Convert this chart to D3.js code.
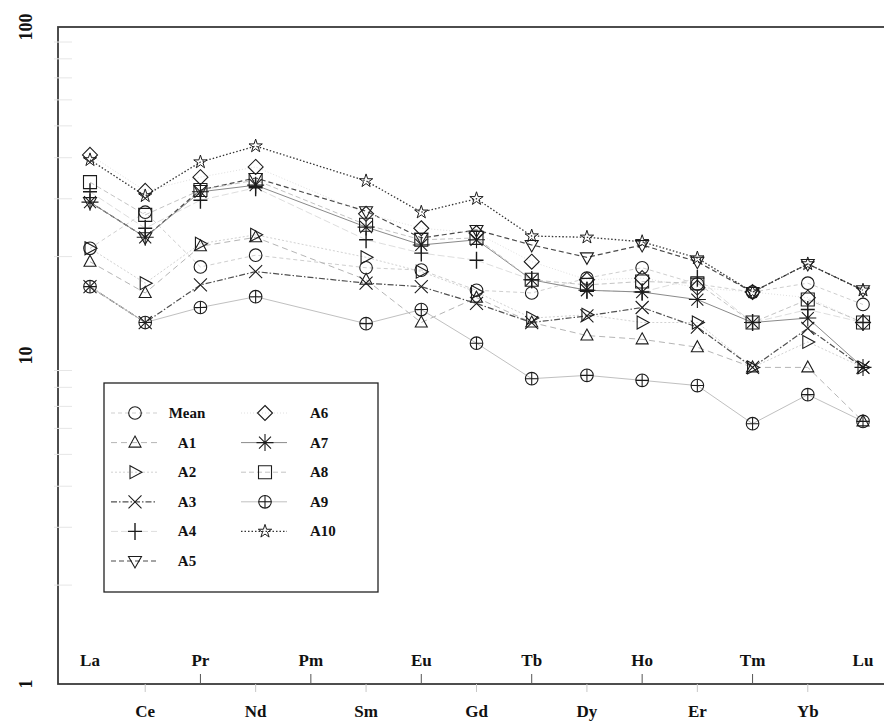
<!DOCTYPE html>
<html>
<head>
<meta charset="utf-8">
<script src="https://cdn.jsdelivr.net/npm/d3@7"></script>
<style>
  body { margin: 0; background: #fff; }
  svg { display: block; }
  text { font-family: "Liberation Serif", "Times New Roman", serif; font-weight: bold; fill: #111; }
</style>
</head>
<body>
<svg id="chart" width="884" height="722"></svg>
<script>
// Rare earth elements (Pm has no measurement; lines bridge over it)
const elements = ["La","Ce","Pr","Nd","Pm","Sm","Eu","Gd","Tb","Dy","Ho","Er","Tm","Yb","Lu"];
const yTickValues = [1, 10, 100];
const seriesNames = ["Mean","A1","A2","A3","A4","A5","A6","A7","A8","A9","A10"];

// Chondrite-normalised concentrations, one array per sample
const mean = [21.2, 27.3, 18.6, 20.2, null, 18.5, 18.2, 15.8, 15.5, 17.2, 18.5, 16.5, 15.6, 16.6, 14.3];
const a1   = [19.3, 15.5, 21.5, 22.9, null, 17.0, 12.6, 15.0, 12.6, 11.5, 11.2, 10.6,  9.2,  9.2,  6.3];
const a2   = [21.2, 16.6, 21.9, 23.3, null, 19.9, 18.0, 15.6, 13.0, 13.3, 12.6, 12.6,  9.2, 11.0,  9.2];
const a3   = [16.2, 12.6, 16.4, 18.0, null, 16.6, 16.2, 14.4, 12.6, 13.2, 14.0, 12.2,  9.2, 12.1,  9.2];
const a4   = [31.5, 24.4, 29.7, 32.4, null, 22.5, 20.5, 19.5, 17.0, 15.8, 15.6, 17.2, 12.6, 13.8, 12.6];
const a5   = [29.3, 22.9, 31.9, 34.7, null, 27.5, 22.8, 24.1, 21.7, 19.9, 21.7, 19.3, 15.6, 19.0, 15.8];
const a6   = [40.8, 31.7, 34.9, 37.5, null, 27.0, 24.4, 23.6, 19.3, 17.0, 17.2, 16.1, 15.6, 15.0, 12.6];
const a7   = [29.3, 22.9, 31.5, 33.0, null, 24.6, 21.7, 22.5, 17.0, 15.8, 15.6, 14.8, 12.6, 13.0,  9.2];
const a8   = [33.7, 26.8, 31.9, 34.2, null, 25.0, 22.5, 22.8, 17.0, 16.4, 16.8, 16.6, 12.6, 14.8, 12.6];
const a9   = [16.2, 12.6, 14.0, 15.1, null, 12.5, 13.8, 10.9,  8.5,  8.7,  8.4,  8.1,  6.2,  7.6,  6.3];
const a10  = [39.4, 30.6, 38.8, 43.4, null, 34.0, 27.3, 30.0, 23.1, 22.9, 22.2, 19.8, 15.6, 19.0, 15.8];

const seriesValues = [mean, a1, a2, a3, a4, a5, a6, a7, a8, a9, a10];

// Drawing styles per series: marker shape, line colour and dash pattern
const styles = [
  { shape: "circle",    stroke: "#cfcfcf", dash: "4,3",        width: 1 },
  { shape: "triUp",     stroke: "#b5b5b5", dash: "6,4",        width: 1 },
  { shape: "triRight",  stroke: "#d2d2d2", dash: "2,2",        width: 1 },
  { shape: "cross",     stroke: "#505050", dash: "6,2,1.5,2",  width: 1.2 },
  { shape: "plus",      stroke: "#dedede", dash: "7,3",        width: 1 },
  { shape: "triDown",   stroke: "#4a4a4a", dash: "5,3",        width: 1.2 },
  { shape: "diamond",   stroke: "#e0e0e0", dash: "1,2",        width: 1 },
  { shape: "asterisk",  stroke: "#8a8a8a", dash: null,         width: 1 },
  { shape: "square",    stroke: "#c4c4c4", dash: "5,3",        width: 1 },
  { shape: "circlePlus",stroke: "#c0c0c0", dash: null,         width: 1 },
  { shape: "star",      stroke: "#333333", dash: "1.5,2",      width: 1.3 }
];

const svg = d3.select("#chart");
const frameLeft = 58, frameTop = 27, frameBottom = 684, frameRight = 890;

const x = d3.scalePoint().domain(elements).range([90, 863]);
const y = d3.scaleLog().domain([1, 100]).range([frameBottom, frameTop]);

// Marker glyphs
function marker(g, shape) {
  const m = g.append("g").attr("fill", "none").attr("stroke", "#1c1c1c").attr("stroke-width", 1.1);
  switch (shape) {
    case "circle": m.append("circle").attr("r", 6.3); break;
    case "triUp": m.append("path").attr("d", "M0,-6.5L6,4.5L-6,4.5Z"); break;
    case "triRight": m.append("path").attr("d", "M-5,-6.5L7,0L-5,6.5Z"); break;
    case "triDown": m.append("path").attr("d", "M-6.5,-4.5L6.5,-4.5L0,7Z"); break;
    case "cross": m.append("path").attr("d", "M-6.5,-6.5L6.5,6.5M-6.5,6.5L6.5,-6.5"); break;
    case "plus": m.append("path").attr("d", "M0,-8.5V8.5M-7,0H7").attr("stroke-width", 1.4); break;
    case "diamond": m.append("path").attr("d", "M0,-7.5L7.5,0L0,7.5L-7.5,0Z"); break;
    case "asterisk": m.append("path").attr("d", "M-6,-6L6,6M-6,6L6,-6M0,-8.5V8.5M-8.5,0H8.5"); break;
    case "square": m.append("path").attr("d", "M-6.5,-6.5H6.5V6.5H-6.5Z"); break;
    case "circlePlus":
      m.append("circle").attr("r", 6.3);
      m.append("path").attr("d", "M0,-6.3V6.3M-6.3,0H6.3");
      break;
    case "star":
      m.append("path").attr("d", d3.symbol(d3.symbolStar, 55)()).attr("stroke-width", 1);
      break;
  }
  return m;
}

// Frame (left, top, bottom)
svg.append("rect")
  .attr("x", frameLeft).attr("y", frameTop)
  .attr("width", frameRight - frameLeft).attr("height", frameBottom - frameTop)
  .attr("fill", "none").attr("stroke", "#3a3a3a").attr("stroke-width", 1.8);

// Faint minor ticks of the log axis
const minor = [];
for (const dec of [1, 10]) for (let k = 2; k <= 9; k++) minor.push(dec * k);
svg.append("g").selectAll("line").data(minor).join("line")
  .attr("x1", frameLeft - 4).attr("x2", frameLeft + 14)
  .attr("y1", d => y(d)).attr("y2", d => y(d))
  .attr("stroke", "#e6e6e6").attr("stroke-width", 1);

// Y tick labels (rotated)
svg.append("g").selectAll("text").data(yTickValues).join("text")
  .attr("transform", d => `translate(26,${y(d)}) rotate(-90)`)
  .attr("text-anchor", "middle").attr("dominant-baseline", "central")
  .attr("font-size", 18)
  .text(d => d);

// X axis: alternating labels inside and below the frame
const xg = svg.append("g");
elements.forEach((el, i) => {
  const inside = i % 2 === 0;
  if (inside) {
    if (i > 0 && i < elements.length - 1) {
      xg.append("line").attr("x1", x(el)).attr("x2", x(el))
        .attr("y1", frameBottom).attr("y2", frameBottom - 10)
        .attr("stroke", "#555").attr("stroke-width", 1);
    }
    xg.append("text").attr("x", x(el)).attr("y", 660)
      .attr("text-anchor", "middle").attr("dominant-baseline", "central")
      .attr("font-size", 17).text(el);
  } else {
    xg.append("line").attr("x1", x(el)).attr("x2", x(el))
      .attr("y1", frameBottom).attr("y2", frameBottom + 8)
      .attr("stroke", "#c8c8c8").attr("stroke-width", 1);
    xg.append("text").attr("x", x(el)).attr("y", 711)
      .attr("text-anchor", "middle").attr("dominant-baseline", "central")
      .attr("font-size", 17).text(el);
  }
});

// Series lines and markers
const line = d3.line().x(d => x(d.el)).y(d => y(d.v));
const plotData = seriesValues.map(vals =>
  vals.map((v, i) => ({ el: elements[i], v })).filter(d => d.v != null));

const linesG = svg.append("g");
plotData.forEach((pts, s) => {
  const st = styles[s];
  linesG.append("path").datum(pts)
    .attr("d", line)
    .attr("fill", "none")
    .attr("stroke", st.stroke)
    .attr("stroke-width", st.width)
    .attr("stroke-dasharray", st.dash);
});
const marksG = svg.append("g");
plotData.forEach((pts, s) => {
  pts.forEach(d => {
    const g = marksG.append("g").attr("transform", `translate(${x(d.el)},${y(d.v)})`);
    marker(g, styles[s].shape);
  });
});

// Legend
const lg = svg.append("g");
lg.append("rect").attr("x", 104).attr("y", 383).attr("width", 274).attr("height", 209)
  .attr("fill", "#fff").attr("stroke", "#222").attr("stroke-width", 1.3);
const rowY = i => 413 + i * 29.6;
seriesNames.forEach((name, s) => {
  const col = s < 6 ? 0 : 1;
  const row = s < 6 ? s : s - 6;
  const cx = col === 0 ? 135 : 265;
  const yy = rowY(row);
  const st = styles[s];
  lg.append("line").attr("x1", cx - 24).attr("x2", cx + 22)
    .attr("y1", yy).attr("y2", yy)
    .attr("stroke", st.stroke).attr("stroke-width", st.width)
    .attr("stroke-dasharray", st.dash);
  marker(lg.append("g").attr("transform", `translate(${cx},${yy})`), st.shape);
  const t = lg.append("text").attr("y", yy).attr("dominant-baseline", "central")
    .attr("font-size", 15).text(name);
  if (col === 0) t.attr("x", 187).attr("text-anchor", "middle");
  else t.attr("x", 310).attr("text-anchor", "start");
});
</script>
</body>
</html>
